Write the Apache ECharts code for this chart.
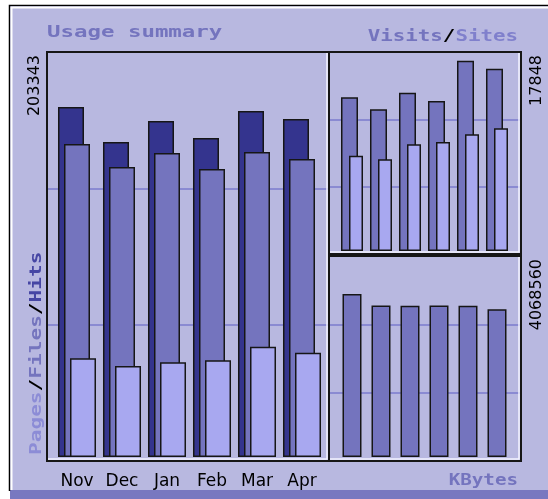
<!DOCTYPE html>
<html>
<head>
<meta charset="utf-8">
<script src="https://cdn.jsdelivr.net/npm/echarts@6/dist/echarts.min.js"></script>
<style>
html, body { margin: 0; padding: 0; background: #fff; }
#chart { width: 548px; height: 499px; }
</style>
</head>
<body>
<div id="chart"></div>
<script>
// monthly usage
const months = ['Nov', 'Dec', 'Jan', 'Feb', 'Mar', 'Apr'];
const hits = [203343, 183000, 195200, 185300, 201000, 196400];
const files = [181800, 168500, 176600, 167300, 177200, 173100];
const pages = [57300, 52900, 55000, 56200, 64100, 60600];
const visits = [14420, 13290, 14850, 14070, 17848, 17100];
const sites = [8940, 8600, 10010, 10220, 10950, 11510];
const kbytes = [4068560, 3780000, 3776000, 3779000, 3774000, 3687000];

const bg = '#b8b8e0';
const colHits = '#34348e';
const colFiles = '#7474be';
const colPages = '#a8a8f0';
const lineCol = '#8a8ad2';
const edge = '#161616';

const chart = echarts.init(document.getElementById('chart'));

function frame(x, y, w, h) {
    // dark box with a white inner edge on the right and bottom
    return [
        {type: 'rect', z: 20, shape: {x: x, y: y, width: w, height: h},
            style: {fill: null, stroke: edge, lineWidth: 2}},
        {type: 'polyline', z: 21, shape: {points: [[x + w - 2, y + 1], [x + w - 2, y + h - 2], [x + 1, y + h - 2]]},
            style: {fill: null, stroke: '#f4f4ff', lineWidth: 1.5}}
    ];
}

function frameAxis(idx) {
    return {
        type: 'value', gridIndex: idx, min: 0, max: 3, interval: 1,
        axisLine: {show: false}, axisTick: {show: false}, axisLabel: {show: false},
        splitLine: {show: true, showMinLine: false, showMaxLine: false, lineStyle: {color: lineCol, width: 2}}
    };
}

function barItem(c) {
    return {color: c, borderColor: edge, borderWidth: 1.5};
}

const graphics = [
    {type: 'rect', z: -10, shape: {x: 10, y: 6, width: 538, height: 486}, style: {fill: bg}},
    {type: 'rect', z: -9, shape: {x: 10, y: 490, width: 538, height: 9}, style: {fill: '#7878c0'}},
    {type: 'polyline', z: -8, shape: {points: [[9.5, 491], [9.5, 5.5], [548, 5.5]]}, style: {fill: null, stroke: '#000', lineWidth: 1.5}},
    {type: 'polyline', z: -8, shape: {points: [[11.5, 490], [11.5, 7.5], [548, 7.5]]}, style: {fill: null, stroke: '#fff', lineWidth: 2}},
    {type: 'text', left: 47, top: 25, z: 30, scaleX: 1.4,
        style: {text: 'Usage summary', font: 'bold 16px "DejaVu Sans Mono"', fill: colFiles}},
    {type: 'text', x: 518, y: 37, z: 30, scaleX: 1.3,
        style: {
            text: '{a|Visits}{b|/}{c|Sites}', align: 'right', verticalAlign: 'middle',
            rich: {
                a: {font: 'bold 16px "DejaVu Sans Mono"', fill: colFiles},
                b: {font: 'bold 16px "DejaVu Sans Mono"', fill: '#000'},
                c: {font: 'bold 16px "DejaVu Sans Mono"', fill: '#8080cc'}
            }
        }},
    {type: 'text', x: 518, y: 481, z: 30, scaleX: 1.2,
        style: {text: 'KBytes', align: 'right', verticalAlign: 'middle', font: 'bold 16px "DejaVu Sans Mono"', fill: colFiles}},
    {type: 'text', x: 37, y: 455, z: 30, rotation: Math.PI / 2, scaleX: 1.32,
        style: {
            text: '{a|Pages}{b|/}{c|Files}{b|/}{d|Hits}', align: 'left', verticalAlign: 'middle',
            rich: {
                a: {font: 'bold 16px "DejaVu Sans Mono"', fill: '#8c8cd6'},
                b: {font: 'bold 16px "DejaVu Sans Mono"', fill: '#000'},
                c: {font: 'bold 16px "DejaVu Sans Mono"', fill: colFiles},
                d: {font: 'bold 16px "DejaVu Sans Mono"', fill: '#4646a4'}
            }
        }},
    {type: 'text', x: 35, y: 55, z: 30, rotation: Math.PI / 2,
        style: {text: String(Math.max(...hits)), align: 'right', verticalAlign: 'middle', font: '16px "DejaVu Sans"', fill: '#000'}},
    {type: 'text', x: 537, y: 55, z: 30, rotation: Math.PI / 2,
        style: {text: String(Math.max(...visits)), align: 'right', verticalAlign: 'middle', font: '16px "DejaVu Sans"', fill: '#000'}},
    {type: 'text', x: 537, y: 259, z: 30, rotation: Math.PI / 2,
        style: {text: String(Math.max(...kbytes)), align: 'right', verticalAlign: 'middle', font: '16px "DejaVu Sans"', fill: '#000'}}
].concat(frame(47, 52, 282, 409), frame(329, 52, 192, 202), frame(329, 256, 192, 205));

const option = {
    animation: false,
    backgroundColor: '#fff',
    grid: [
        {left: 47, top: 52, width: 282, height: 409},
        {left: 329, top: 52, width: 192, height: 202},
        {left: 329, top: 256, width: 192, height: 205},
        {left: 54.5, top: 52, width: 270, height: 405},
        {left: 337.5, top: 52, width: 174, height: 199},
        {left: 337.5, top: 257, width: 174, height: 200}
    ],
    xAxis: [
        {type: 'value', gridIndex: 0, show: false},
        {type: 'value', gridIndex: 1, show: false},
        {type: 'value', gridIndex: 2, show: false},
        {type: 'category', gridIndex: 3, data: months,
            axisLine: {show: false}, axisTick: {show: false},
            axisLabel: {interval: 0, margin: 16, color: '#000', fontSize: 17, fontFamily: 'DejaVu Sans'}},
        {type: 'category', gridIndex: 4, data: months, show: false},
        {type: 'category', gridIndex: 5, data: months, show: false}
    ],
    yAxis: [
        frameAxis(0), frameAxis(1), frameAxis(2),
        {type: 'value', gridIndex: 3, min: 0, max: 235300, show: false},
        {type: 'value', gridIndex: 4, min: 0, max: 18660, show: false},
        {type: 'value', gridIndex: 5, min: 0, max: 4992000, show: false}
    ],
    series: [
        {name: 'Hits', type: 'bar', xAxisIndex: 3, yAxisIndex: 3, data: hits,
            barWidth: 26, barGap: '-76.9%', itemStyle: barItem(colHits)},
        {name: 'Files', type: 'bar', xAxisIndex: 3, yAxisIndex: 3, data: files,
            barWidth: 26, barGap: '-76.9%', itemStyle: barItem(colFiles)},
        {name: 'Pages', type: 'bar', xAxisIndex: 3, yAxisIndex: 3, data: pages,
            barWidth: 26, barGap: '-76.9%', itemStyle: barItem(colPages)},
        {name: 'Visits', type: 'bar', xAxisIndex: 4, yAxisIndex: 4, data: visits,
            barWidth: 17, barGap: '-52.9%', itemStyle: barItem(colFiles)},
        {name: 'Sites', type: 'bar', xAxisIndex: 4, yAxisIndex: 4, data: sites,
            barWidth: 14, barGap: '-52.9%', itemStyle: barItem(colPages)},
        {name: 'KBytes', type: 'bar', xAxisIndex: 5, yAxisIndex: 5, data: kbytes,
            barWidth: 19, itemStyle: barItem(colFiles)}
    ],
    graphic: graphics
};

chart.setOption(option);
</script>
</body>
</html>
